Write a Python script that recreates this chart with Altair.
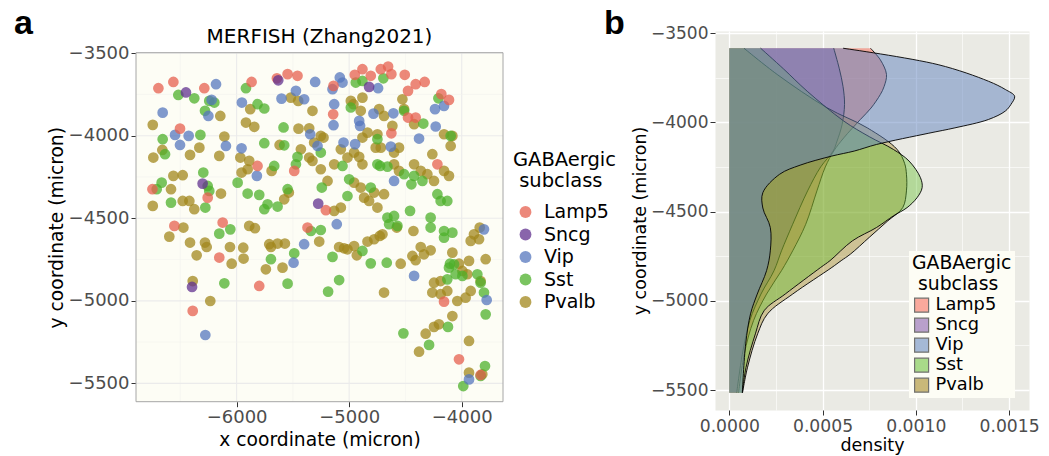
import altair as alt
import pandas as pd

FONT = "DejaVu Sans"
LETTER_FONT = "Liberation Sans"

SUBCLASSES = ["Lamp5", "Sncg", "Vip", "Sst", "Pvalb"]
POINT_COLORS = ["#E6604F", "#62318F", "#5677BD", "#4DB02B", "#A2871C"]
DENSITY_COLORS = ["#F66654", "#8255AA", "#5F82BE", "#66BE32", "#A08014"]
DENSITY_OPACITY = {"Lamp5": 0.5, "Sncg": 0.45, "Vip": 0.5, "Sst": 0.42, "Pvalb": 0.38}

# Cell positions (x, y) in micron, per GABAergic subclass
LAMP5_CELLS = [
    (-6695, -3712), (-6562, -3674), (-6287, -3712), (-5867, -3674), (-5642, -3652),
    (-5547, -3627), (-5459, -3637), (-5139, -3698), (-4950, -3631), (-4882, -3597),
    (-4808, -3637), (-4719, -3597), (-4654, -3581), (-4625, -3627), (-4506, -3631),
    (-4477, -3728), (-4409, -3688), (-4329, -3674), (-4181, -3748), (-4113, -3783),
    (-5142, -3870), (-4625, -3985), (-4477, -3890), (-4409, -3890), (-4216, -4173),
    (-6503, -3957), (-6748, -4324), (-6257, -4375), (-5814, -4183), (-5488, -4213),
    (-5207, -4451), (-6124, -4526), (-6553, -4546), (-6154, -4738), (-5799, -4910),
    (-6390, -5061), (-5370, -4556), (-4157, -5005), (-4024, -5354), (-3832, -5449),
]
SNCG_CELLS = [
    (-6450, -3738), (-5630, -3664), (-4823, -3704), (-6302, -4290), (-5275, -4411),
    (-6396, -4916),
]
VIP_CELLS = [
    (-6183, -3688), (-5302, -3674), (-5083, -3647), (-5059, -3678), (-5148, -3718),
    (-5473, -3728), (-5400, -3779), (-5601, -3775), (-5953, -3799), (-6222, -3783),
    (-6251, -3880), (-6657, -3860), (-6547, -3995), (-6426, -4001), (-6503, -4056),
    (-6095, -4062), (-5956, -4076), (-5346, -3991), (-5281, -4062), (-5139, -3936),
    (-5133, -3809), (-4911, -3910), (-4903, -3940), (-4784, -3866), (-4743, -3712),
    (-4607, -3864), (-4630, -4066), (-4379, -4017), (-4237, -3839), (-4157, -3819),
    (-4231, -3944), (-5050, -4041), (-4947, -4051), (-5820, -4243), (-4601, -4274),
    (-5400, -4657), (-5494, -4769), (-5110, -4536), (-4423, -4849), (-3802, -4567),
    (-3778, -4995), (-6278, -5207), (-3935, -5476),
]
SST_CELLS = [
    (-6518, -3753), (-6376, -3773), (-6281, -3849), (-6243, -3789), (-6198, -3799),
    (-5917, -3712), (-5814, -3809), (-5754, -3835), (-5583, -3950), (-5577, -4058),
    (-5754, -4045), (-6657, -4021), (-6322, -3995), (-6636, -4112), (-6666, -4284),
    (-6710, -4324), (-6296, -4223), (-6257, -4304), (-6243, -4334), (-6278, -4435),
    (-6583, -4405), (-5991, -4284), (-5902, -4350), (-5799, -4358), (-5725, -4415),
    (-5636, -4429), (-5754, -4445), (-5459, -4128), (-5473, -4173), (-5666, -4183),
    (-5252, -4102), (-5243, -4314), (-5015, -4365), (-5000, -4264), (-5059, -4183),
    (-4985, -3829), (-4941, -3678), (-4882, -3668), (-4696, -3652), (-4512, -3849),
    (-4341, -3926), (-4207, -3773), (-4098, -4001), (-4749, -4173), (-4808, -4314),
    (-4725, -4183), (-4660, -4187), (-4512, -4233), (-4423, -4243), (-4447, -4294),
    (-4349, -4274), (-4216, -4354), (-4128, -4395), (-4187, -4395), (-4459, -4455),
    (-4276, -4496), (-4749, -4021), (-4660, -4496), (-4601, -4486), (-5547, -4324),
    (-6154, -4593), (-6056, -4567), (-6109, -4894), (-5695, -4748), (-5547, -4896),
    (-5488, -4712), (-5340, -4577), (-5252, -4571), (-5148, -4734), (-5089, -4874),
    (-5187, -4944), (-4882, -4698), (-4808, -4773), (-4666, -4769), (-4645, -4536),
    (-4571, -4546), (-4518, -5197), (-4276, -4556), (-4157, -4577), (-4083, -4587),
    (-4157, -4617), (-4104, -4775), (-4113, -4799), (-4068, -4779), (-4128, -4870),
    (-4054, -4839), (-3994, -4849), (-3861, -4839), (-3832, -4890), (-3802, -4950),
    (-4290, -5267), (-4122, -5158), (-3787, -5082), (-3793, -5395), (-3832, -5455),
    (-3986, -5516),
]
PVALB_CELLS = [
    (-6745, -3934), (-6740, -4132), (-6660, -4086), (-6562, -4243), (-6479, -4239),
    (-6583, -4324), (-6414, -4116), (-6331, -4072), (-6420, -4395), (-6376, -4445),
    (-6479, -4395), (-6745, -4425), (-6145, -3880), (-6109, -4005), (-6154, -4122),
    (-6139, -4350), (-5917, -3920), (-5843, -3946), (-5879, -3839), (-5967, -4132),
    (-5902, -4203), (-5888, -4152), (-5956, -4223), (-5689, -4213), (-5618, -4056),
    (-5536, -4344), (-5577, -4385), (-5518, -3769), (-5453, -3789), (-5450, -3957),
    (-5355, -3955), (-5326, -3849), (-5311, -4041), (-5252, -4001), (-5228, -4011),
    (-5429, -4082), (-5355, -4132), (-5326, -4152), (-5252, -4203), (-5192, -4274),
    (-5133, -4173), (-4985, -3789), (-4962, -3809), (-4897, -3849), (-4882, -4011),
    (-4837, -3981), (-4749, -3991), (-4719, -4072), (-4956, -4102), (-5074, -4082),
    (-5015, -4132), (-4911, -4128), (-4882, -4173), (-4956, -4284), (-4897, -4314),
    (-4867, -4375), (-4823, -4395), (-4749, -4435), (-4778, -4344), (-4690, -4354),
    (-4601, -4173), (-4557, -4213), (-4423, -4173), (-4364, -4213), (-4261, -4112),
    (-4305, -4233), (-4246, -4274), (-4157, -4213), (-4113, -4243), (-4098, -4062),
    (-4083, -4001), (-4157, -3991), (-4557, -4072), (-4527, -3779), (-4512, -3839),
    (-4423, -3930), (-4734, -3839), (-4690, -3880), (-4616, -3940), (-4882, -3769),
    (-4764, -4072), (-4601, -4102), (-5133, -4455), (-5074, -4435),
    (-6598, -4611), (-6473, -4556), (-6414, -4647), (-6355, -4724), (-6281, -4647),
    (-6266, -4674), (-6390, -4880), (-6234, -5001), (-6059, -4674), (-6044, -4775),
    (-5941, -4678), (-5938, -4744), (-5888, -4546), (-5837, -4560), (-5740, -4809),
    (-5710, -4657), (-5695, -4674), (-5636, -4653), (-5571, -4653), (-5592, -4799),
    (-5266, -4641), (-5089, -4674), (-5045, -4682), (-5015, -4688), (-4956, -4668),
    (-4932, -4724), (-4837, -4641), (-4778, -4627), (-4728, -4607), (-4704, -4597),
    (-4690, -4950), (-4577, -4556), (-4542, -4775), (-4429, -4577), (-4438, -4728),
    (-4409, -4754), (-4364, -4674), (-4335, -4718), (-4276, -4694), (-4246, -4890),
    (-4261, -4950), (-4187, -4960), (-4187, -4880), (-4128, -4940), (-4083, -4708),
    (-4024, -4775), (-3994, -4819), (-3950, -4839), (-3935, -4758), (-3920, -4637),
    (-3891, -4597), (-3846, -4627), (-3840, -4556), (-3787, -4748), (-3832, -4880),
    (-3920, -4940), (-3965, -4981), (-4039, -5001), (-4083, -5092), (-4320, -5199),
    (-4246, -5158), (-4202, -5142), (-4379, -5308), (-3935, -5243), (-3935, -5435),
    (-3817, -5445),
]

# Density of y coordinate per subclass: (y in micron, density)
LAMP5_DENSITY = [
    (-3585, 0.000757), (-3650, 0.00081), (-3732, 0.000843), (-3800, 0.00083),
    (-3844, 0.00081), (-3920, 0.00076), (-3984, 0.000703), (-4087, 0.000614),
    (-4161, 0.00056), (-4250, 0.000515), (-4384, 0.00047), (-4571, 0.00041),
    (-4720, 0.00034), (-4831, 0.00028), (-4962, 0.0002), (-5111, 0.00013),
    (-5300, 0.00008), (-5515, 0.00005),
]
SNCG_DENSITY = [
    (-3585, 0.00056), (-3700, 0.00059), (-3800, 0.00061), (-3900, 0.000618),
    (-4012, 0.000605), (-4105, 0.000578), (-4161, 0.000557), (-4250, 0.00049),
    (-4384, 0.00042), (-4571, 0.00034), (-4720, 0.00028), (-4831, 0.00024),
    (-4962, 0.00017), (-5111, 0.00011), (-5300, 0.00007), (-5515, 0.00004),
]
VIP_DENSITY = [
    (-3585, 0.00061), (-3677, 0.00112), (-3770, 0.00139), (-3816, 0.00148),
    (-3854, 0.00153), (-3900, 0.00151), (-3937, 0.00148), (-3984, 0.00139),
    (-4031, 0.00121), (-4061, 0.00107), (-4124, 0.00079), (-4161, 0.00067),
    (-4189, 0.00055), (-4240, 0.00038), (-4291, 0.00027), (-4394, 0.00018),
    (-4480, 0.00018), (-4589, 0.00022), (-4720, 0.00022), (-4831, 0.0002),
    (-4962, 0.00015), (-5073, 0.000114), (-5241, 0.000088), (-5515, 0.00007),
]
SST_DENSITY = [
    (-3585, 0.000168), (-3700, 0.00029), (-3826, 0.000418), (-3993, 0.000614),
    (-4080, 0.00075), (-4152, 0.00088), (-4217, 0.000964), (-4310, 0.001025),
    (-4366, 0.001034), (-4422, 0.001007), (-4478, 0.000953), (-4524, 0.00088),
    (-4589, 0.00079), (-4664, 0.00066), (-4775, 0.00054), (-4813, 0.00049),
    (-4962, 0.0003), (-5055, 0.000187), (-5185, 0.00014), (-5372, 0.00009),
    (-5515, 0.00007),
]
PVALB_DENSITY = [
    (-3585, 0.000079), (-3732, 0.000257), (-3919, 0.000525), (-4031, 0.00074),
    (-4152, 0.0009), (-4230, 0.00094), (-4291, 0.00095), (-4384, 0.00095),
    (-4478, 0.00093), (-4552, 0.00085), (-4645, 0.00075), (-4738, 0.00065),
    (-4775, 0.0006), (-4813, 0.00055), (-4962, 0.00034), (-5073, 0.000205),
    (-5185, 0.000152), (-5372, 0.000098), (-5515, 0.000071),
]

# Grid / tick positions
A_X_GRID = [-6500, -6000, -5500, -5000, -4500, -4000]
A_X_TICKS = [-6000, -5000, -4000]
Y_GRID = [-3500, -3750, -4000, -4250, -4500, -4750, -5000, -5250, -5500]
Y_TICKS = [-3500, -4000, -4500, -5000, -5500]
B_X_GRID = [0, 0.00025, 0.0005, 0.00075, 0.001, 0.00125, 0.0015]

# second title line sits slightly indented under the first
LEGEND_TITLE = ["GABAergic", "\u200b\u00a0subclass"]

cell_sets = {
    "Pvalb": PVALB_CELLS, "Sst": SST_CELLS, "Vip": VIP_CELLS,
    "Lamp5": LAMP5_CELLS, "Sncg": SNCG_CELLS,
}
cells = pd.DataFrame(
    [{"subclass": k, "x": x, "y": y} for k, pts in cell_sets.items() for x, y in pts]
)

density_sets = {
    "Lamp5": LAMP5_DENSITY, "Sncg": SNCG_DENSITY, "Vip": VIP_DENSITY,
    "Sst": SST_DENSITY, "Pvalb": PVALB_DENSITY,
}
density = pd.DataFrame(
    [{"type": k, "y": y, "density": d} for k, pts in density_sets.items() for y, d in pts]
)

LABEL_GRAY = "#4D4D4D"
one_row = alt.Data(values=[{}])

# ---------------- panel a: spatial scatter ----------------
# The plot area reaches a strip above the framed panel so both panels share one origin.
A_W, A_H, A_TOP = 367, 349, 21.7
A_X_DOMAIN = [-6894, -3633]
A_Y_LOW, A_Y_HIGH = -5611, -3497
a_y_domain = [A_Y_LOW, A_Y_HIGH + A_TOP * (A_Y_HIGH - A_Y_LOW) / A_H]

ax_scale = alt.Scale(domain=A_X_DOMAIN, nice=False, zero=False)
ay_scale = alt.Scale(domain=a_y_domain, nice=False, zero=False)

axis_common = dict(
    grid=False, domain=False, tickSize=5, tickColor="#333333", tickWidth=1,
    labelFont=FONT, labelColor=LABEL_GRAY, labelFontSize=18, labelPadding=2,
    titleFont=FONT, titleColor="black", titleFontWeight="normal", titleFontSize=18.7,
    format="d",
)

panel_bg = alt.Chart(one_row).mark_rect(fill="#FDFDF5").encode(
    x=alt.value(0), x2=alt.value(A_W), y=alt.value(A_TOP), y2=alt.value(A_TOP + A_H)
)
panel_frame = alt.Chart(one_row).mark_rect(
    fillOpacity=0, stroke="#A6A6A6", strokeWidth=1
).encode(x=alt.value(0), x2=alt.value(A_W), y=alt.value(A_TOP), y2=alt.value(A_TOP + A_H))

a_vgrid = alt.Chart(pd.DataFrame({"v": A_X_GRID})).transform_calculate(
    major="datum.v % 1000 === 0"
).mark_rule().encode(
    x=alt.X("v:Q", scale=ax_scale),
    y=alt.value(A_TOP), y2=alt.value(A_TOP + A_H),
    color=alt.condition("datum.major", alt.value("#EBEBEB"), alt.value("#F3F3EE")),
    strokeWidth=alt.condition("datum.major", alt.value(1.1), alt.value(0.6)),
)
a_hgrid = alt.Chart(pd.DataFrame({"v": Y_GRID})).transform_calculate(
    major="datum.v % 500 === 0"
).mark_rule().encode(
    y=alt.Y("v:Q", scale=ay_scale),
    x=alt.value(0), x2=alt.value(A_W),
    color=alt.condition("datum.major", alt.value("#EBEBEB"), alt.value("#F3F3EE")),
    strokeWidth=alt.condition("datum.major", alt.value(1.1), alt.value(0.6)),
)

scatter = alt.Chart(cells).mark_circle(size=115, opacity=0.75).encode(
    x=alt.X("x:Q", scale=ax_scale,
            axis=alt.Axis(values=A_X_TICKS, title="x coordinate (micron)", titlePadding=4,
                          **axis_common)),
    y=alt.Y("y:Q", scale=ay_scale,
            axis=alt.Axis(values=Y_TICKS, title="y coordinate (micron)", titlePadding=2,
                          titleY=A_TOP + A_H / 2, **axis_common)),
    color=alt.Color(
        "subclass:N", scale=alt.Scale(domain=SUBCLASSES, range=POINT_COLORS), sort=SUBCLASSES,
        legend=alt.Legend(
            title=LEGEND_TITLE, orient="none", legendX=377, legendY=120,
            titleFont=FONT, titleFontSize=19.5, titleFontWeight="normal", titleColor="black",
            titleLineHeight=21, titleAlign="left", titleAnchor="start", titlePadding=11,
            labelFont=FONT, labelFontSize=19, labelColor="black", labelOffset=9,
            symbolType="circle", symbolSize=140, symbolOpacity=0.75, symbolStrokeWidth=0,
            symbolOffset=3, rowPadding=2.5, padding=0,
        ),
    ),
)


def letter(ch, xpos, ypos, opacity=1):
    return alt.Chart(one_row).mark_text(
        text=ch, font=LETTER_FONT, fontSize=34, fontWeight="bold", align="left",
        baseline="alphabetic", color="black", opacity=opacity,
    ).encode(x=alt.value(xpos), y=alt.value(ypos))


title_a = alt.Chart(one_row).mark_text(
    text="MERFISH (Zhang2021)", font=FONT, fontSize=20, align="center",
    baseline="alphabetic", color="black",
).encode(x=alt.value(A_W / 2), y=alt.value(11.7))

panel_a = alt.layer(
    panel_bg, a_vgrid, a_hgrid, scatter, panel_frame, title_a,
    letter("a", -122, 3), letter("b", 468, 3),
).properties(
    width=A_W, height=A_H + A_TOP,
    view=alt.ViewBackground(fill="transparent", stroke="transparent"),
)

# ---------------- panel b: density of y coordinate ----------------
def grid_axis(values, title, major_test, fmt, **kw):
    return alt.Axis(
        values=values, title=title, format=fmt,
        labelExpr=f"({major_test}) ? datum.label : ''",
        tickOpacity={"condition": {"test": major_test, "value": 1}, "value": 0},
        gridColor="#FFFFFF",
        gridWidth={"condition": {"test": major_test, "value": 1.3}, "value": 0.6},
        grid=True, domain=False, tickSize=5, tickColor="#333333", tickWidth=1,
        labelFont=FONT, labelColor=LABEL_GRAY, titleFont=FONT, titleColor="black",
        titleFontWeight="normal", **kw,
    )


x_axis_b = grid_axis(
    B_X_GRID, "density", "round(datum.value * 4000) % 2 === 0", ".4f",
    labelFontSize=17.2, titleFontSize=17.5, labelPadding=2, titlePadding=2,
)
y_axis_b = grid_axis(
    Y_GRID, "y coordinate (micron)", "datum.value % 500 === 0", "d",
    labelFontSize=17, titleFontSize=17.5, labelPadding=2, titlePadding=1,
)

density_legend = alt.Legend(
    title=LEGEND_TITLE, orient="none", legendX=194, legendY=220,
    fillColor="#FDFDF5", padding=3,
    titleFont=FONT, titleFontSize=18.8, titleFontWeight="normal", titleColor="black",
    titleLineHeight=20.5, titleAlign="left", titleAnchor="start", titlePadding=3,
    labelFont=FONT, labelFontSize=17.8, labelColor="black", labelOffset=5,
    symbolType="square", symbolSize=196, symbolStrokeColor="black", symbolStrokeWidth=1.2,
    symbolOpacity=0.55, symbolOffset=0.7, rowPadding=0,
)

bx_scale = alt.Scale(domain=[-0.0000765, 0.001607], nice=False, zero=False)
by_scale = alt.Scale(domain=[-5611.5, -3488.5], nice=False, zero=False)
fill_scale = alt.Scale(domain=SUBCLASSES, range=DENSITY_COLORS)

# later layers cover the outlines of earlier ones
draw_order = ["Lamp5", "Sncg", "Pvalb", "Sst", "Vip"]
density_layers = []
for name in draw_order:
    base = alt.Chart(density).transform_filter(alt.datum.type == name)
    density_layers.append(
        base.mark_area(
            orient="horizontal", interpolate="catmull-rom",
            fillOpacity=DENSITY_OPACITY[name], strokeWidth=0,
        ).encode(
            x=alt.X("density:Q", stack=None, scale=bx_scale, axis=x_axis_b),
            y=alt.Y("y:Q", scale=by_scale, axis=y_axis_b),
            fill=alt.Fill("type:N", scale=fill_scale, sort=SUBCLASSES, legend=density_legend),
        )
    )
    density_layers.append(
        base.mark_line(interpolate="catmull-rom", color="black", strokeWidth=0.9).encode(
            x=alt.X("density:Q", scale=bx_scale, axis=x_axis_b),
            y=alt.Y("y:Q", scale=by_scale, axis=y_axis_b),
            order=alt.Order("y:Q"),
        )
    )

panel_b = alt.layer(*density_layers, letter("b", 20, 3, opacity=0)).properties(
    width=314, height=379,
    view=alt.ViewBackground(fill="#EAEAE4", stroke="transparent"),
)

chart = alt.hconcat(panel_a, panel_b, spacing=4).resolve_scale(
    color="independent", fill="independent"
).resolve_legend(
    color="independent", fill="independent"
).properties(
    padding={"left": 13, "top": 6, "right": 0, "bottom": 0},
    background="white",
)

chart.save("out.html", embed_options={"renderer": "svg", "actions": False})
